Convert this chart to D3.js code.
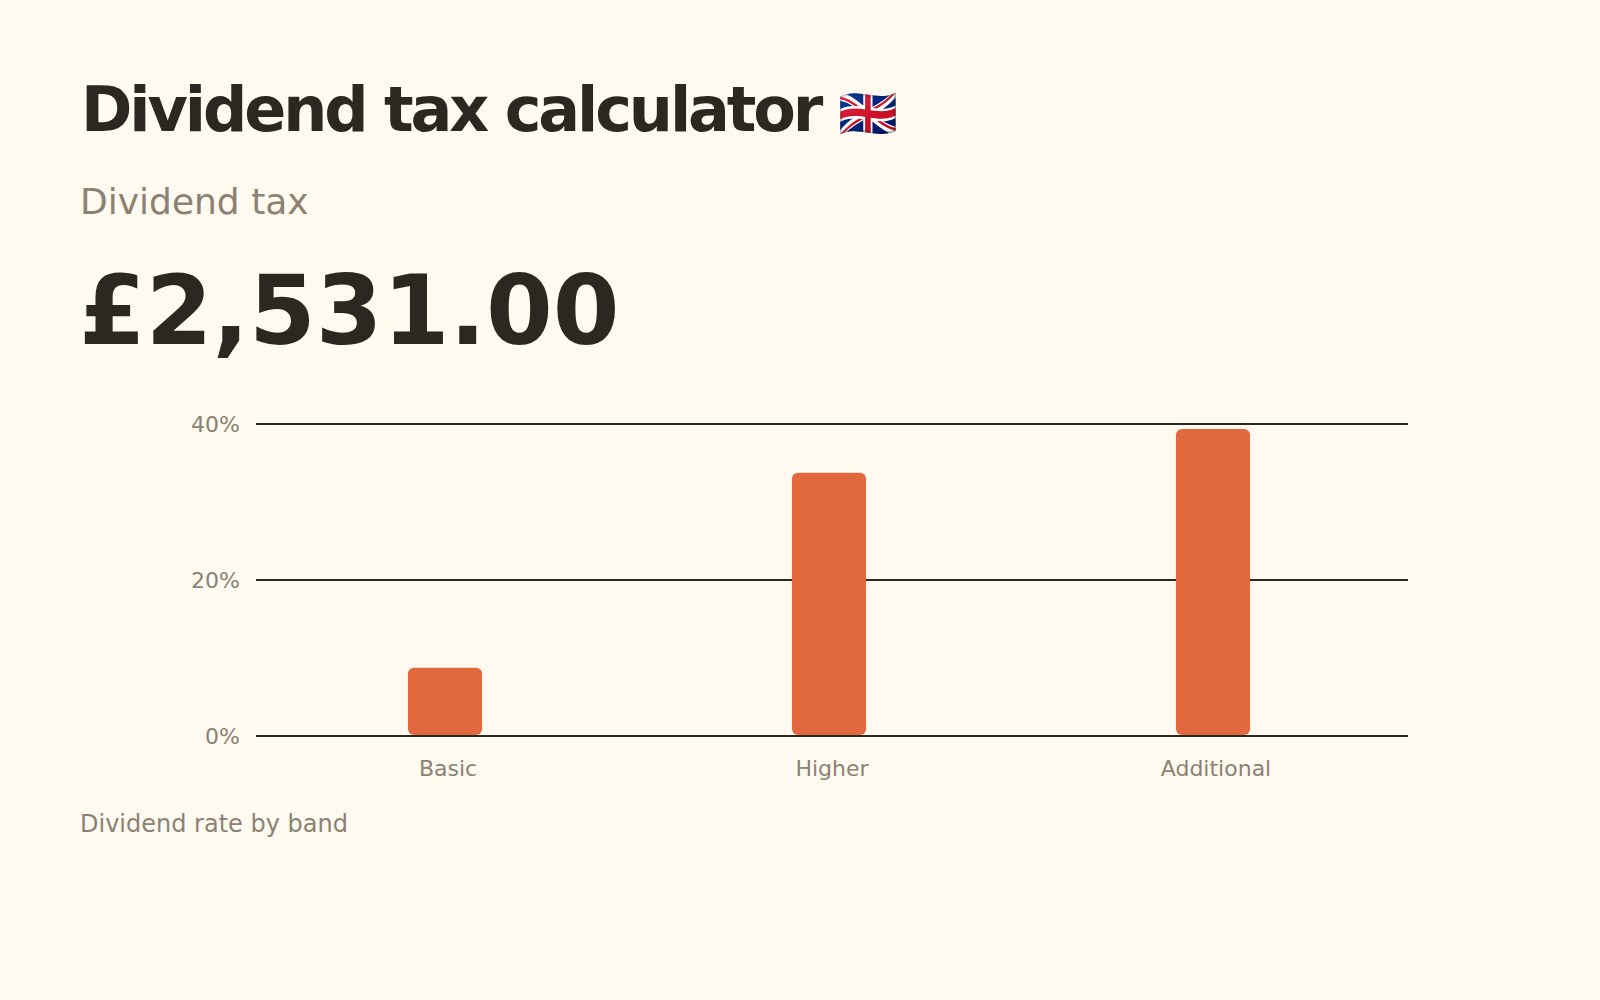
<!DOCTYPE html>
<html>
<head>
<meta charset="utf-8">
<script src="https://cdn.jsdelivr.net/npm/d3@7"></script>
<style>
  html, body { margin: 0; padding: 0; background: #fffaef; }
  svg { display: block; font-family: "DejaVu Sans", sans-serif; }
</style>
</head>
<body>
<div id="chart"></div>
<script>
// chart data
var bands = ["Basic", "Higher", "Additional"];
var rates = [8.75, 33.75, 39.35];
var yTicks = [0, 20, 40];
var title = "Dividend tax calculator";
var flag = "\u{1F1EC}\u{1F1E7}";
var subtitle = "Dividend tax";
var amount = "£2,531.00";
var caption = "Dividend rate by band";

var ink = "#2b2721", muted = "#8c8173", barColor = "#e2693e";

var svg = d3.select("#chart")
  .append("svg")
    .attr("width", 1600)
    .attr("height", 1000);

// header texts
var head = svg.append("text")
  .attr("x", 81)
  .attr("y", 131)
  .style("font-size", "62px")
  .style("font-weight", "bold")
  .style("letter-spacing", "-0.05em")
  .style("fill", ink);
head.append("tspan").text(title);
head.append("tspan")
  .attr("x", 838)
  .attr("y", 130)
  .style("font-size", "48px")
  .style("letter-spacing", "0")
  .style("font-family", "'Noto Color Emoji', sans-serif")
  .text(flag);

svg.append("text")
  .attr("x", 80)
  .attr("y", 214)
  .style("font-size", "36px")
  .style("fill", muted)
  .text(subtitle);

svg.append("text")
  .attr("x", 79)
  .attr("y", 344)
  .style("font-size", "96px")
  .style("font-weight", "bold")
  .style("fill", ink)
  .text(amount);

// scales
var x = d3.scaleBand()
  .domain(bands)
  .range([256, 1408])
  .paddingInner(0.807)
  .paddingOuter(0.4035);

var y = d3.scaleLinear()
  .domain([0, 40])
  .range([736, 424]);

// gridlines
svg.append("g")
  .selectAll("line")
  .data(yTicks)
  .enter()
  .append("line")
    .attr("x1", 256)
    .attr("x2", 1408)
    .attr("y1", function(d) { return y(d) })
    .attr("y2", function(d) { return y(d) })
    .style("stroke", ink)
    .style("stroke-width", 2);

// y axis labels
var yAxis = svg.append("g")
  .attr("transform", "translate(256,0)")
  .call(d3.axisLeft(y).tickValues(yTicks).tickSize(0).tickPadding(16)
    .tickFormat(function(d) { return d + "%" }));
yAxis.select(".domain").remove();
yAxis.selectAll("text")
  .style("font-family", "'DejaVu Sans', sans-serif")
  .style("font-size", "22px")
  .style("fill", muted);

// bars
var barNudge = -3;
svg.append("g")
  .selectAll("rect")
  .data(bands)
  .enter()
  .append("rect")
    .attr("x", function(d) { return x(d) + barNudge })
    .attr("y", function(d, i) { return y(rates[i]) })
    .attr("width", x.bandwidth())
    .attr("height", function(d, i) { return y(0) - y(rates[i]) - 1 })
    .attr("rx", 6)
    .attr("ry", 6)
    .style("fill", barColor);

// x axis labels
var xAxis = svg.append("g")
  .attr("transform", "translate(0,736)")
  .call(d3.axisBottom(x).tickSize(0).tickPadding(24));
xAxis.select(".domain").remove();
xAxis.selectAll("text")
  .style("font-family", "'DejaVu Sans', sans-serif")
  .style("font-size", "22px")
  .style("fill", muted);

svg.append("text")
  .attr("x", 80)
  .attr("y", 832)
  .style("font-size", "24px")
  .style("fill", muted)
  .text(caption);
</script>
</body>
</html>
